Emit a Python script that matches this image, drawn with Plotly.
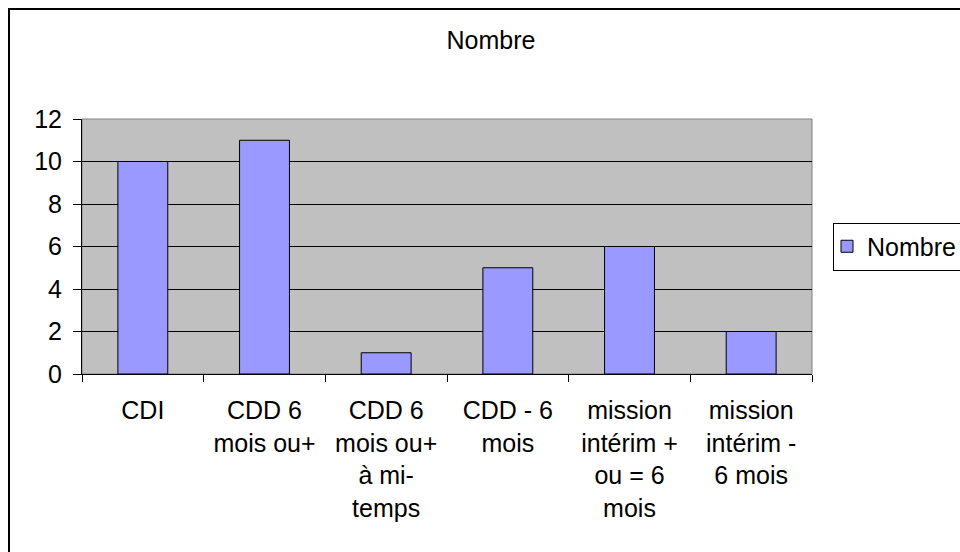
"""
Bar chart: Nombre by contract type (Excel-style look).
"""

import plotly.graph_objects as go

categories = [
    "CDI",
    "CDD 6 mois ou+",
    "CDD 6 mois ou+ à mi-temps",
    "CDD - 6 mois",
    "mission intérim + ou = 6 mois",
    "mission intérim - 6 mois",
]
tick_labels = [
    "CDI",
    "CDD 6<br>mois ou+",
    "CDD 6<br>mois ou+<br>à mi-<br>temps",
    "CDD - 6<br>mois",
    "mission<br>intérim +<br>ou = 6<br>mois",
    "mission<br>intérim -<br>6 mois",
]
nombre = [10, 11, 1, 5, 6, 2]
y_ticks = [0, 2, 4, 6, 8, 10, 12]

FONT = "Arial, Liberation Sans, sans-serif"
FS = 25

# plot area in pixels (960x552 canvas)
L, R, T, B = 82, 812, 119, 374
W, H = R - L, B - T

fig = go.Figure()
fig.add_trace(
    go.Bar(
        x=categories,
        y=nombre,
        name="Nombre",
        marker=dict(color="#9999FF", line=dict(color="#000000", width=1)),
    )
)

fig.update_layout(
    width=960,
    height=552,
    autosize=False,
    margin=dict(l=L, r=960 - R, t=T, b=552 - B, autoexpand=False),
    paper_bgcolor="#FFFFFF",
    plot_bgcolor="#C0C0C0",
    font=dict(family=FONT, size=FS, color="#000000"),
    bargap=0.59,
    showlegend=True,
    title=dict(
        text="Nombre",
        x=(491 - L) / W,
        xref="paper",
        xanchor="center",
        y=1 - 40 / 552,
        yref="container",
        yanchor="middle",
        font=dict(family=FONT, size=FS, color="#000000"),
    ),
    legend=dict(
        x=(833 - L) / W,
        xanchor="left",
        y=0.5,
        yanchor="middle",
        indentation=-7,
        bgcolor="#FFFFFF",
        bordercolor="#000000",
        borderwidth=1,
        font=dict(family=FONT, size=FS, color="#000000"),
    ),
    shapes=[
        # grey plot-area frame (top / right)
        dict(
            type="rect", xref="paper", yref="paper",
            x0=0, x1=1, y0=0, y1=1,
            line=dict(color="#808080", width=1),
            layer="below",
        ),
        # outer chart border
        dict(
            type="rect", xref="paper", yref="paper",
            x0=(9 - L) / W, x1=(1100 - L) / W,
            y0=(B - 700) / H, y1=(B - 9) / H,
            line=dict(color="#000000", width=2),
        ),
    ],
)

fig.update_xaxes(
    tickmode="array",
    tickvals=categories,
    ticktext=tick_labels,
    tickson="boundaries",
    ticks="outside",
    ticklen=7,
    tickcolor="#000000",
    showline=True,
    linecolor="#000000",
    linewidth=1,
    showgrid=False,
    ticklabelstandoff=14,
    tickfont=dict(family=FONT, size=FS, color="#000000"),
)
fig.update_yaxes(
    range=[0, 12],
    tickvals=y_ticks,
    ticks="outside",
    ticklen=8,
    tickcolor="#000000",
    showline=True,
    linecolor="#000000",
    linewidth=1,
    showgrid=True,
    gridcolor="#000000",
    gridwidth=1,
    zeroline=False,
    ticklabelstandoff=6,
    tickfont=dict(family=FONT, size=FS, color="#000000"),
)

# drop the default page margin so the 960x552 figure fills the window
fig.write_html(
    "out.html",
    config={"displayModeBar": False},
    post_script="document.body.style.margin='0';document.body.style.overflow='hidden';",
)
